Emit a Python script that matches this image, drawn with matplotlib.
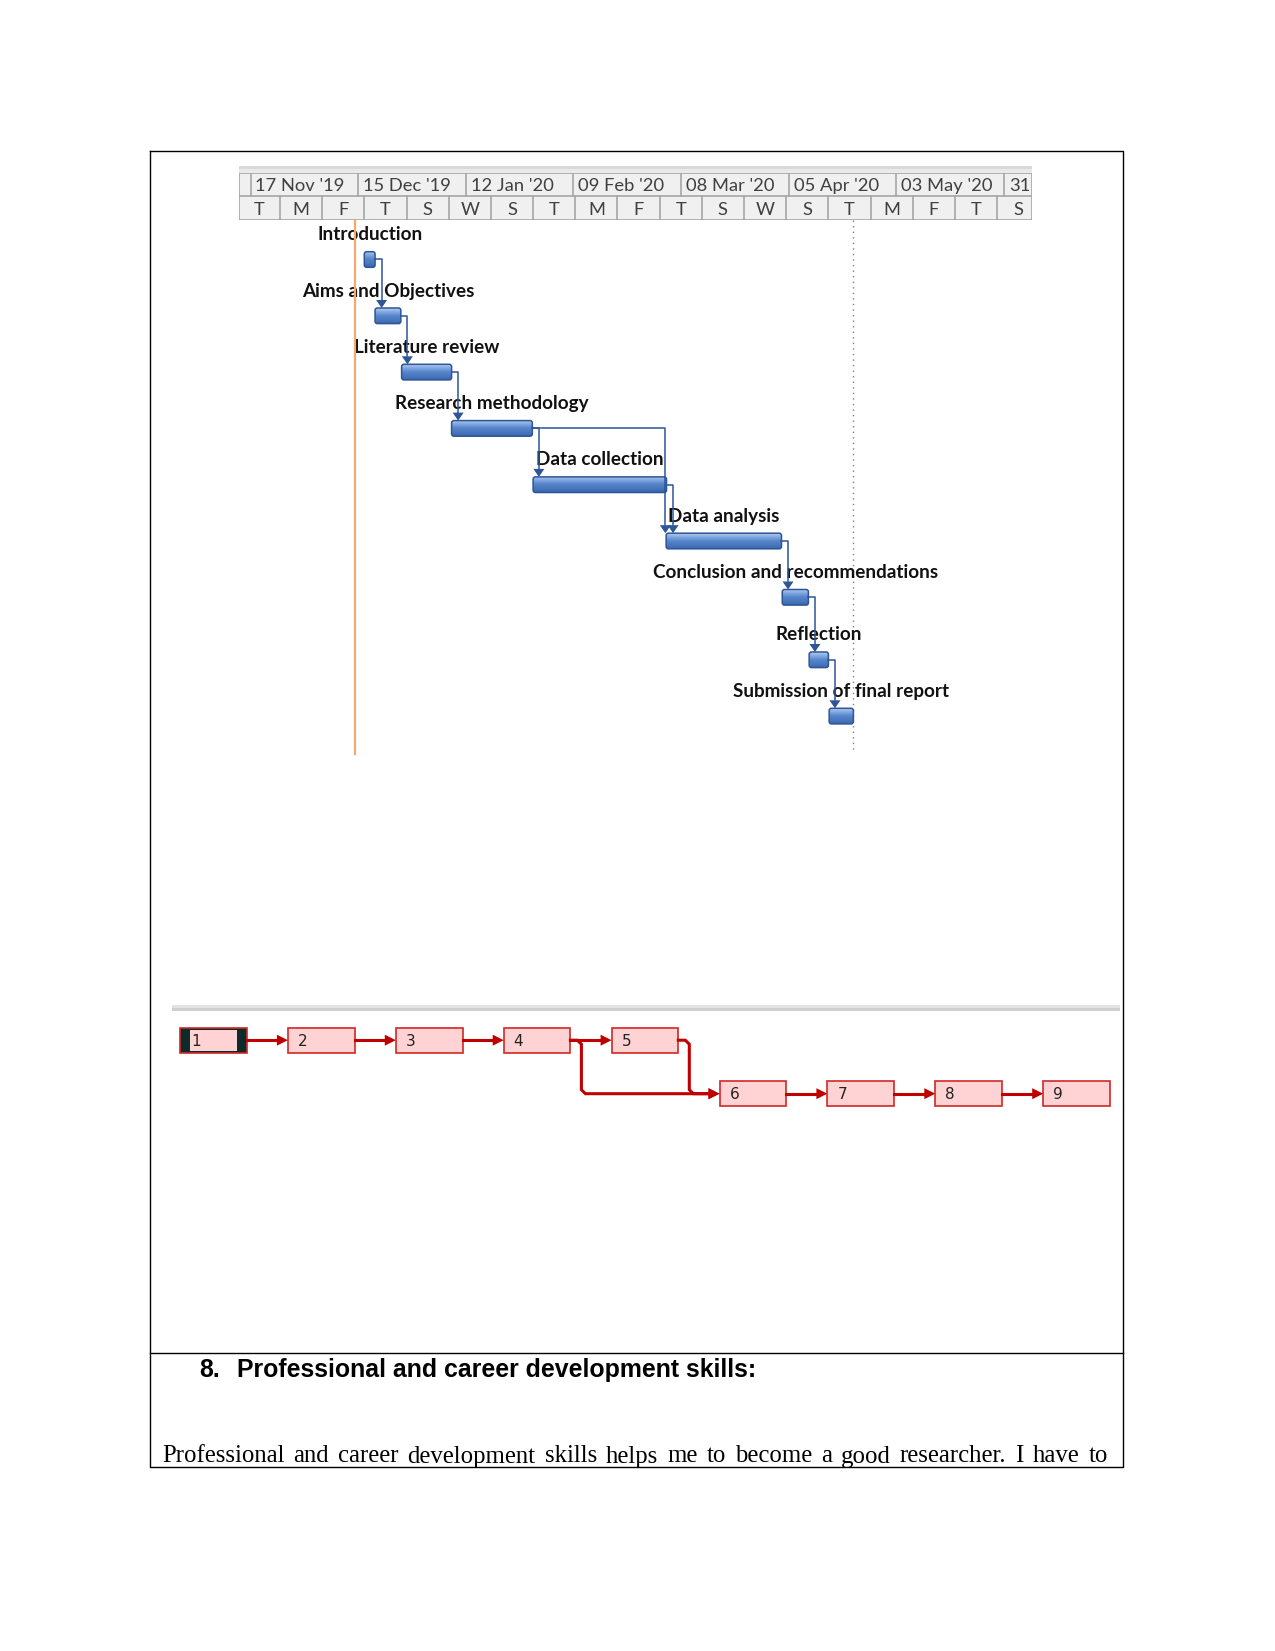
import numpy as np
import matplotlib
matplotlib.use("Agg")
import matplotlib.pyplot as plt
from matplotlib.patches import Rectangle, FancyBboxPatch, Polygon
from matplotlib.colors import LinearSegmentedColormap

W, H = 1275, 1651

# ---- gantt data (days counted from Sun 17 Nov 2019) ----
tasks = ["Introduction", "Aims and Objectives", "Literature review",
         "Research methodology", "Data collection", "Data analysis",
         "Conclusion and recommendations", "Reflection",
         "Submission of final report"]
start_day = [29.6, 32.4, 39.3, 52.3, 73.5, 108.1, 138.3, 145.3, 150.5]
duration = [2.8, 6.7, 13.0, 21.0, 34.7, 30.0, 6.8, 5.0, 6.3]
row_pos = [0, 1, 2, 3, 4, 5, 6, 7.11, 8.11]
links = [(0, 1), (1, 2), (2, 3), (3, 4), (3, 5), (4, 5), (5, 6), (6, 7), (7, 8)]
month_labels = ["17 Nov '19", "15 Dec '19", "12 Jan '20", "09 Feb '20",
                "08 Mar '20", "05 Apr '20", "03 May '20", "31"]
day_labels = ["T", "M", "F", "T", "S", "W", "S", "T", "M", "F",
              "T", "S", "W", "S", "T", "M", "F", "T", "S"]
today_day = 27.1

# ---- network diagram data ----
node_ids = ["1", "2", "3", "4", "5", "6", "7", "8", "9"]
node_col = [0, 1, 2, 3, 4, 5, 6, 7, 8]
node_row = [0, 0, 0, 0, 0, 1, 1, 1, 1]
node_links = [(0, 1), (1, 2), (2, 3), (3, 4), (3, 5), (4, 5), (5, 6), (6, 7), (7, 8)]

heading_num = "8."
heading = "Professional and career development skills:"
body = ("Professional and career development skills helps me to become "
        "a good researcher. I have to")

# pixel layout helpers
day0_px, px_day = 250.5, 3.845
row0_px, px_row = 251.7, 56.3
gx0, gx1 = 239.3, 1032.0


def rect(x0, y0, x1, y1):
    return [x0 / W, 1 - y1 / H, (x1 - x0) / W, (y1 - y0) / H]


def px2day(x):
    return (x - day0_px) / px_day


def px2row(y):
    return (y - row0_px) / px_row


fig = plt.figure(figsize=(W / 100, H / 100), dpi=100)
fig.patch.set_facecolor("white")

ov = fig.add_axes([0, 0, 1, 1])
ov.set_xlim(0, W)
ov.set_ylim(H, 0)
ov.axis("off")

# frame
fl, fr, ft, fb, fd = 150, 1122.5, 150.7, 1467, 1353
ov.plot([fl, fr, fr, fl, fl], [ft, ft, fb, fb, ft], color="black", lw=1.0)
ov.plot([fl, fr], [fd, fd], color="black", lw=1.0)

# grey band above timescale
ov.add_patch(Rectangle((gx0, 166), gx1 - gx0, 3.5, color="#d9d9d9", lw=0))
ov.add_patch(Rectangle((gx0, 169.5), gx1 - gx0, 3.5, color="#e9e9e9", lw=0))

# ---- timescale header ----
hd = fig.add_axes(rect(gx0, 173, gx1, 220))
hd.set_xlim(px2day(gx0), px2day(gx1))
hd.set_ylim(2, 0)
hd.axis("off")
hd.add_patch(Rectangle((px2day(gx0), 0), px2day(gx1) - px2day(gx0), 2,
                       facecolor="#f0f0f0", edgecolor="#a6a6a6", lw=1.2))
hd.axhline(1.0, color="#a6a6a6", lw=1.2)
for i, lab in enumerate(month_labels):
    x = i * 28
    hd.plot([x, x], [0, 1], color="#a6a6a6", lw=1.2)
    hd.text(x + 1.3, 0.78, lab, fontsize=13.2, family="Lato", color="#404040",
            ha="left", va="baseline", clip_on=True)
minor0, minor_step = 7.67, 10.97
for k, lab in enumerate(day_labels):
    edge = minor0 + k * minor_step
    if k < len(day_labels) - 1:
        hd.plot([edge, edge], [1, 2], color="#a6a6a6", lw=1.2)
    hd.text(edge - minor_step / 2, 1.8, lab, fontsize=13.2, family="Lato",
            color="#404040", ha="center", va="baseline", clip_on=True)

# ---- gantt chart ----
gc = fig.add_axes(rect(gx0, 220, gx1, 760))
gc.axis("off")
bar_h = 15.6 / px_row
blue = "#2d5597"
cmap = LinearSegmentedColormap.from_list(
    "bar", ["#b4cdee", "#7fa6df", "#5685cc", "#4a78bf", "#3c67ab"])
grad = np.linspace(0, 1, 32).reshape(-1, 1)

gc.vlines(today_day, px2row(220), px2row(755), color="#f7a96d", lw=1.6, zorder=5)
end_day = start_day[-1] + duration[-1]
gc.vlines(end_day, px2row(220), px2row(752), color="#808080", lw=1.0,
          linestyles=(0, (1, 3)), zorder=1)

for name, s, d, r in zip(tasks, start_day, duration, row_pos):
    box = FancyBboxPatch((s, r), d, bar_h,
                         boxstyle="round,pad=0,rounding_size=0.6",
                         mutation_aspect=px_day / px_row,
                         facecolor="none", edgecolor=blue, lw=1.1, zorder=4)
    gc.add_patch(box)
    im = gc.imshow(grad, cmap=cmap, extent=(s, s + d, r + bar_h, r),
                   aspect="auto", origin="upper", zorder=3)
    im.set_clip_path(box)
    gc.text(s + d / 2, r - 11.5 / px_row, name, fontsize=13.6, family="Lato",
            fontweight="bold", color="#111111", ha="center", va="baseline",
            zorder=2)

ah_len = 8 / px_row
ah_half = 5.5 / px_day
for a, b in links:
    xe = start_day[a] + duration[a]
    ym = row_pos[a] + bar_h / 2
    if b == a + 1:
        xt = xe + 1.7
    else:
        xt = start_day[b] - 0.2
    yt = row_pos[b]
    gc.plot([xe, xt, xt], [ym, ym, yt - ah_len], color=blue, lw=1.1,
            zorder=6, solid_joinstyle="round")
    gc.add_patch(Polygon([(xt - ah_half, yt - ah_len), (xt + ah_half, yt - ah_len),
                          (xt, yt)], closed=True, color=blue, lw=0, zorder=6))

gc.set_xlim(px2day(gx0), px2day(gx1))
gc.set_ylim(px2row(760), px2row(220))

# ---- network diagram ----
ov.add_patch(Rectangle((172, 1005), 948, 3, color="#e3e3e3", lw=0))
ov.add_patch(Rectangle((172, 1008), 948, 3.5, color="#cfcfcf", lw=0))

nx0, ncol = 180.0, 107.9
ny0, nrow = 1027.7, 53.5
nw = fig.add_axes(rect(165, 1015, 1125, 1120))
nw.axis("off")
bw, bh = 66.7 / ncol, 25 / nrow
red = "#c00000"
a_len, a_half = 11 / ncol, 5.5 / nrow
ch_x, ch_y = 4 / ncol, 4 / nrow


def arrow_to(x, y):
    nw.add_patch(Polygon([(x - a_len, y - a_half), (x - a_len, y + a_half), (x, y)],
                         closed=True, color=red, lw=0, zorder=5))


for a, b in node_links:
    xa = node_col[a] + bw
    ya = node_row[a] + bh / 2
    xb = node_col[b]
    yb = node_row[b] + bh / 2
    if node_row[a] == node_row[b]:
        nw.plot([xa, xb - a_len], [ya, yb], color=red, lw=2.2, zorder=4)
    else:
        xv = xa + 11 / ncol
        nw.plot([xa, xv - ch_x, xv, xv, xv + ch_x, xb - a_len],
                [ya, ya, ya + ch_y, yb - ch_y, yb, yb],
                color=red, lw=2.2, zorder=4, solid_joinstyle="miter")
    arrow_to(xb, yb)

for i, (lab, c, r) in enumerate(zip(node_ids, node_col, node_row)):
    if i == 0:
        nw.add_patch(Rectangle((c, r), bw, bh, facecolor="#0c2b2b",
                               edgecolor="#d02828", lw=1.2, zorder=3))
        nw.add_patch(Rectangle((c + 10 / ncol, r + 2.3 / nrow), bw - 20 / ncol,
                               bh - 4.5 / nrow, facecolor="#ffd3d3", lw=0, zorder=3))
        tx = c + 11 / ncol
    else:
        nw.add_patch(Rectangle((c, r), bw, bh, facecolor="#ffd3d3",
                               edgecolor="#d02828", lw=1.2, zorder=3))
        tx = c + 10 / ncol
    nw.text(tx, r + bh / 2 + 0.02, lab, fontsize=11, family="DejaVu Sans",
            color="#222222", ha="left", va="center", zorder=6)

nw.set_xlim((165 - nx0) / ncol, (1125 - nx0) / ncol)
nw.set_ylim((1120 - ny0) / nrow, (1015 - ny0) / nrow)

# ---- text below ----
ov.text(199.3, 1377, heading_num, fontsize=17.9, family="Liberation Sans",
        fontweight="bold", ha="left", va="baseline")
ov.text(236.7, 1377, heading, fontsize=17.9, family="Liberation Sans",
        fontweight="bold", ha="left", va="baseline")

words = body.split()
txts = [ov.text(0, 1462.5, w, fontsize=17.8, family="Liberation Serif",
                ha="left", va="baseline") for w in words]
rend = fig.canvas.get_renderer()
widths = [t.get_window_extent(rend).width for t in txts]
left, right = 162.0, 1108.0
gap = (right - left - sum(widths)) / (len(words) - 1)
x = left
for t, w in zip(txts, widths):
    t.set_x(x)
    x += w + gap

fig.savefig("out.png", dpi=100)
